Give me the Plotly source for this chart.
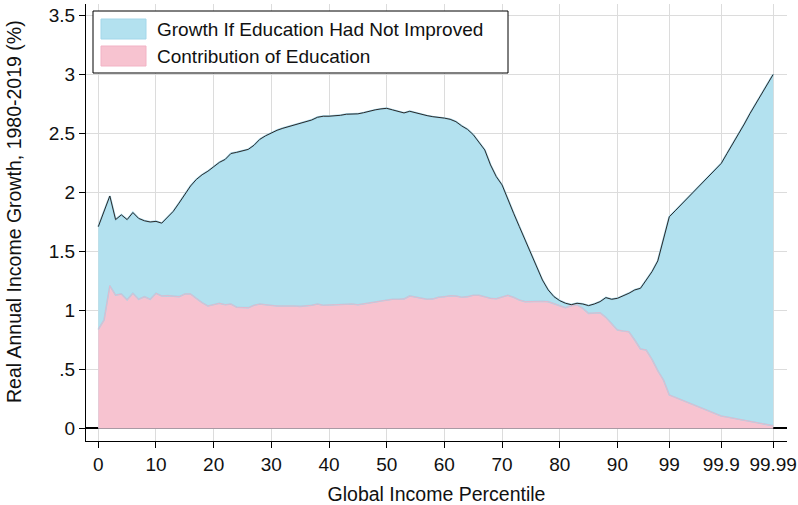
import plotly.graph_objects as go

# x positions: 0..99 percentiles, then 99.1..99.9 (100..108), then 99.91..99.99 (109..117)
positions = list(range(0, 118))

total_growth = [
    1.71, 1.84, 1.97, 1.77, 1.81, 1.77, 1.83, 1.78, 1.76, 1.75,
    1.755, 1.74, 1.79, 1.84, 1.91, 1.985, 2.055, 2.11, 2.15, 2.18,
    2.22, 2.255, 2.28, 2.33, 2.34, 2.35, 2.365, 2.40, 2.45, 2.48,
    2.507, 2.527, 2.544, 2.558, 2.566, 2.58, 2.595, 2.614, 2.637, 2.646,
    2.646, 2.649, 2.654, 2.663, 2.666, 2.666, 2.676, 2.69, 2.70, 2.708,
    2.713, 2.70, 2.688, 2.674, 2.688, 2.674, 2.663, 2.651, 2.642, 2.637,
    2.63, 2.62, 2.60, 2.564, 2.535, 2.49, 2.43, 2.36, 2.233, 2.134,
    2.064, 1.936, 1.824, 1.71, 1.597, 1.485, 1.371, 1.258, 1.174, 1.117,
    1.083, 1.061, 1.049, 1.061, 1.055, 1.041, 1.055, 1.075, 1.109, 1.095,
    1.103, 1.123, 1.146, 1.174, 1.188, 1.258, 1.329, 1.42, 1.607, 1.794,
    1.844, 1.894, 1.945, 1.995, 2.045, 2.095, 2.145, 2.195, 2.246,
    2.33, 2.41, 2.50, 2.58, 2.67, 2.75, 2.83, 2.92, 3.00,
]

education_contribution = [
    0.84, 0.92, 1.21, 1.13, 1.14, 1.09, 1.146, 1.095, 1.117, 1.095,
    1.146, 1.123, 1.126, 1.123, 1.117, 1.14, 1.14, 1.103, 1.066, 1.038,
    1.052, 1.061, 1.049, 1.055, 1.027, 1.024, 1.024, 1.044, 1.055, 1.049,
    1.041, 1.038, 1.038, 1.041, 1.038, 1.035, 1.038, 1.044, 1.055, 1.044,
    1.047, 1.049, 1.052, 1.055, 1.055, 1.049, 1.055, 1.061, 1.072, 1.08,
    1.09, 1.095, 1.095, 1.098, 1.123, 1.112, 1.10, 1.095, 1.098, 1.112,
    1.117, 1.125, 1.123, 1.112, 1.117, 1.129, 1.129, 1.117, 1.103, 1.10,
    1.117, 1.129, 1.112, 1.089, 1.075, 1.078, 1.078, 1.078, 1.075, 1.061,
    1.041, 1.024, 1.041, 1.047, 1.018, 0.976, 0.976, 0.981, 0.942, 0.891,
    0.835, 0.826, 0.82, 0.75, 0.674, 0.665, 0.586, 0.49, 0.41, 0.284,
    0.264, 0.244, 0.224, 0.205, 0.185, 0.165, 0.145, 0.125, 0.106,
    0.097, 0.088, 0.079, 0.070, 0.060, 0.051, 0.042, 0.033, 0.024,
]

x_tick_vals = [0, 10, 20, 30, 40, 50, 60, 70, 80, 90, 99, 108, 117]
x_tick_text = ["0", "10", "20", "30", "40", "50", "60", "70", "80", "90", "99", "99.9", "99.99"]
y_tick_vals = [0, 0.5, 1, 1.5, 2, 2.5, 3, 3.5]
y_tick_text = ["0", ".5", "1", "1.5", "2", "2.5", "3", "3.5"]

legend_labels = ["Growth If Education Had Not Improved", "Contribution of Education"]
x_title = "Global Income Percentile"
y_title = "Real Annual Income Growth, 1980-2019 (%)"

BLUE_FILL = "#b3e1ef"
BLUE_EDGE = "#a3d7ea"
PINK_FILL = "#f7c3d0"
PINK_EDGE = "#f2b3c5"
FONT = "Liberation Sans, Arial, sans-serif"

fig = go.Figure()
fig.add_trace(go.Scatter(
    x=positions, y=total_growth, mode="lines", fill="tozeroy",
    fillcolor=BLUE_FILL, line=dict(color=BLUE_EDGE, width=2),
    name=legend_labels[0], showlegend=False, hoverinfo="skip",
))
fig.add_trace(go.Scatter(
    x=positions, y=education_contribution, mode="lines", fill="tozeroy",
    fillcolor=PINK_FILL, line=dict(color=BLUE_EDGE, width=1.6),
    name=legend_labels[1], showlegend=False, hoverinfo="skip",
))
fig.add_trace(go.Scatter(
    x=positions, y=education_contribution, mode="lines",
    line=dict(color=PINK_EDGE, width=0.8),
    showlegend=False, hoverinfo="skip",
))
fig.add_trace(go.Scatter(
    x=positions, y=total_growth, mode="lines",
    line=dict(color="#2a2a2a", width=1),
    showlegend=False, hoverinfo="skip",
))

# manual legend (paper coordinates)
L, T, R, B = 86.0, 4.0, 787.0, 441.0
W, H = R - L, B - T
def px(xp):
    return (xp - L) / W
def py(yp):
    return 1 - (yp - T) / H

shapes = [
    dict(type="rect", xref="paper", yref="paper", x0=px(93), x1=px(508), y0=py(73), y1=py(11),
         line=dict(color="#000", width=1), fillcolor="white", layer="above"),
    dict(type="rect", xref="paper", yref="paper", x0=px(101), x1=px(146), y0=py(39), y1=py(19),
         line=dict(color=BLUE_EDGE, width=1), fillcolor=BLUE_FILL, layer="above"),
    dict(type="rect", xref="paper", yref="paper", x0=px(101), x1=px(146), y0=py(66), y1=py(46),
         line=dict(color=PINK_EDGE, width=1), fillcolor=PINK_FILL, layer="above"),
]
annotations = [
    dict(text=legend_labels[0], xref="paper", yref="paper", x=px(155), y=py(29),
         xanchor="left", yanchor="middle", showarrow=False, font=dict(size=19, color="#111", family=FONT)),
    dict(text=legend_labels[1], xref="paper", yref="paper", x=px(155), y=py(56),
         xanchor="left", yanchor="middle", showarrow=False, font=dict(size=19, color="#111", family=FONT)),
    dict(text=y_title, xref="paper", yref="paper", x=px(14), y=py(212), textangle=-90,
         xanchor="center", yanchor="middle", showarrow=False, font=dict(size=19.5, color="#111", family=FONT)),
]

fig.update_layout(
    width=798, height=505,
    margin=dict(l=int(L), r=int(798 - R), t=int(T), b=int(505 - B), autoexpand=False),
    paper_bgcolor="white", plot_bgcolor="white",
    font=dict(family=FONT, size=19, color="#111"),
    shapes=shapes, annotations=annotations,
    xaxis=dict(
        range=[-2.13, 119.4], tickvals=x_tick_vals, ticktext=x_tick_text,
        showgrid=True, gridcolor="#dcdcdc", gridwidth=1,
        showline=True, linecolor="#000", linewidth=1,
        ticks="outside", ticklen=6, tickcolor="#000",
        zeroline=False, automargin=False,
        title=dict(text=x_title, font=dict(size=19.5), standoff=14),
        tickfont=dict(size=19),
    ),
    yaxis=dict(
        range=[-0.106, 3.597], tickvals=y_tick_vals, ticktext=y_tick_text,
        showgrid=True, gridcolor="#dcdcdc", gridwidth=1,
        showline=True, linecolor="#000", linewidth=1,
        ticks="outside", ticklen=6, tickcolor="#000",
        zeroline=True, zerolinecolor="#000", zerolinewidth=1.5,
        automargin=False,
        tickfont=dict(size=19),
    ),
)

fig.write_html("out.html", config={"displayModeBar": False},
               post_script="document.body.style.margin='0px';document.body.style.overflow='hidden';")
